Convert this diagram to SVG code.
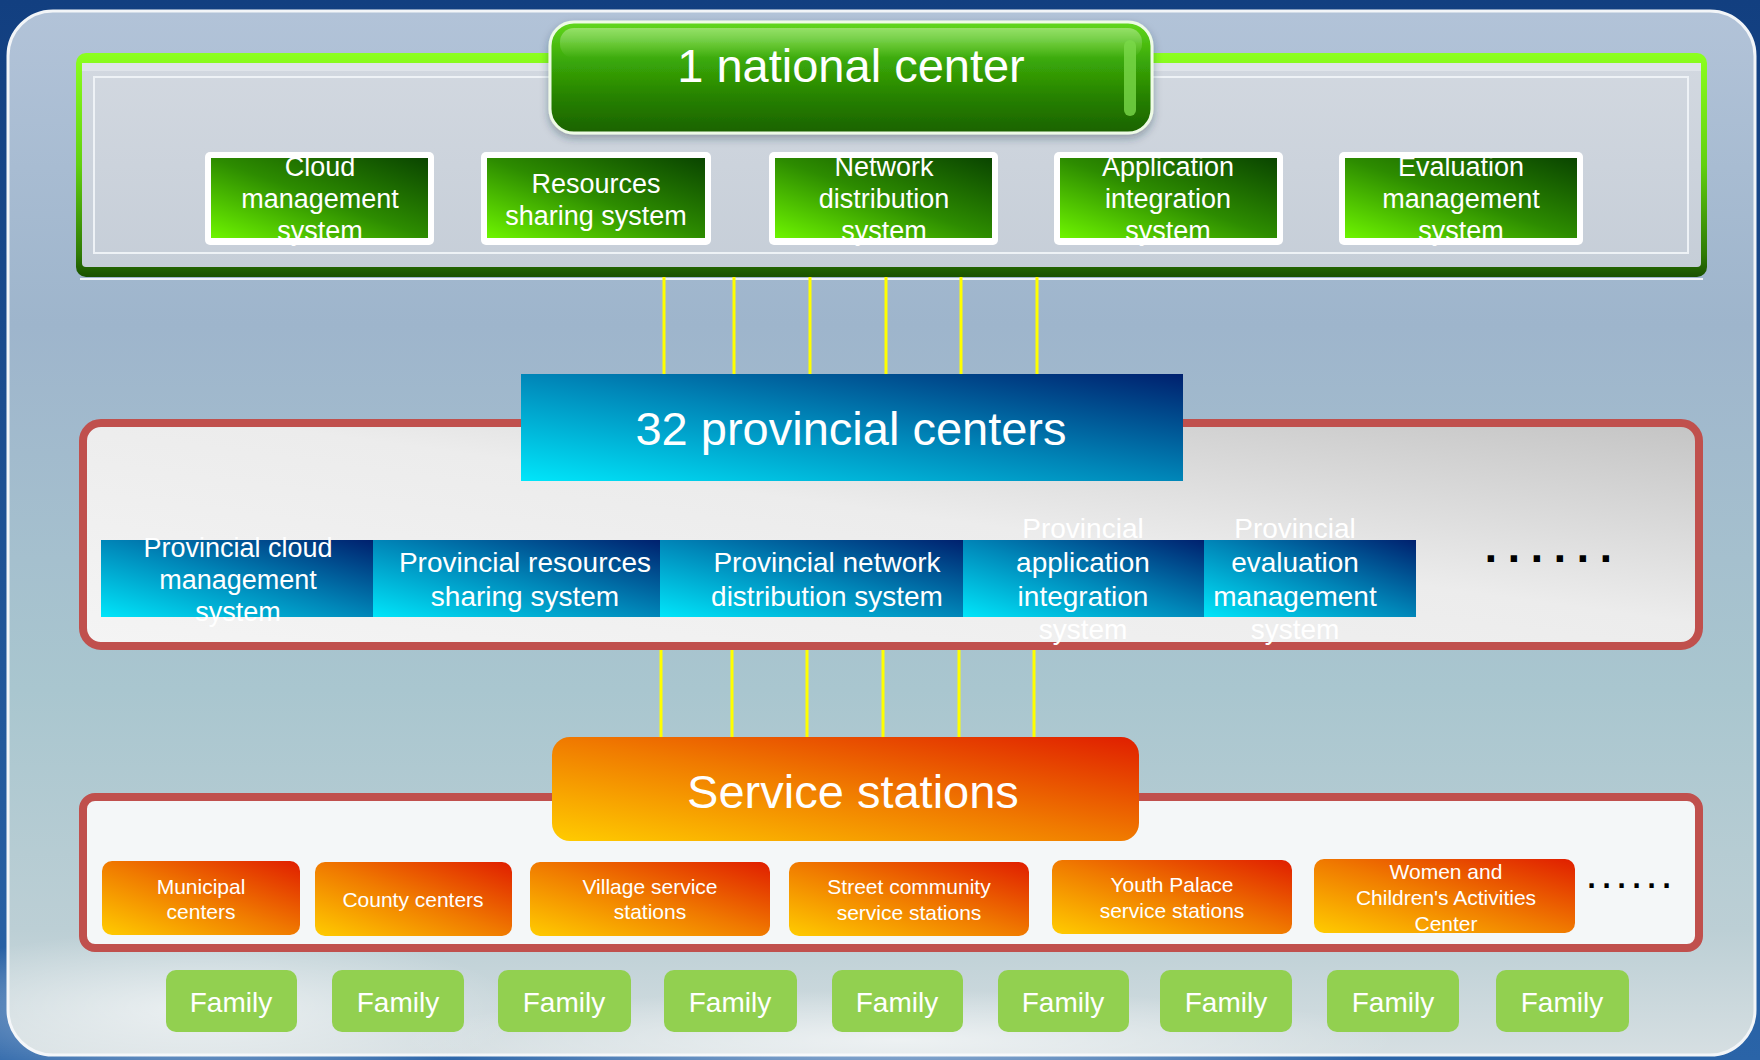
<svg xmlns="http://www.w3.org/2000/svg" width="1760" height="1060" viewBox="0 0 1760 1060">
<defs>
<style>
.t{font-family:"Liberation Sans",Arial,sans-serif;fill:#fff;text-anchor:middle}
.big{font-size:47px}
.gt{font-size:27px}
.bt{font-size:28px}
.ot{font-size:21px}
.ft{font-size:28px}
.yl{stroke:#ffff00;stroke-width:3;fill:none}
.rf{stroke:#c0504d;stroke-width:8}
.dots{font-family:"DejaVu Sans",sans-serif;font-weight:bold;fill:#000}
.fam{fill:#92d050}
</style>
<linearGradient id="gBg" x1="0" y1="0" x2="0" y2="1">
<stop offset="0" stop-color="#123f80"/><stop offset="1" stop-color="#2a64a8"/>
</linearGradient>
<linearGradient id="gPanel" x1="0" y1="0" x2="0" y2="1">
<stop offset="0" stop-color="#b2c3d8"/><stop offset="0.3" stop-color="#9eb5cc"/><stop offset="0.65" stop-color="#a9c6cf"/><stop offset="0.88" stop-color="#bccfd5"/><stop offset="1" stop-color="#d6dfe2"/>
</linearGradient>
<radialGradient id="gCloud" cx="0.5" cy="0.5" r="0.5">
<stop offset="0" stop-color="#ffffff" stop-opacity="0.6"/><stop offset="1" stop-color="#ffffff" stop-opacity="0"/>
</radialGradient>
<linearGradient id="gFrameGreen" x1="0" y1="0" x2="0" y2="1">
<stop offset="0" stop-color="#8cff1e"/><stop offset="0.5" stop-color="#62d010"/><stop offset="0.9" stop-color="#2f7a05"/><stop offset="1" stop-color="#1a5200"/>
</linearGradient>
<linearGradient id="gFrameIn" x1="0" y1="0" x2="0" y2="1">
<stop offset="0" stop-color="#d2d8e0"/><stop offset="1" stop-color="#c6ced8"/>
</linearGradient>
<linearGradient id="gNat" x1="0" y1="0" x2="0" y2="1">
<stop offset="0" stop-color="#62d81c"/><stop offset="0.35" stop-color="#3aa808"/><stop offset="0.7" stop-color="#257f02"/><stop offset="1" stop-color="#1b6200"/>
</linearGradient>
<linearGradient id="gGloss" x1="0" y1="0" x2="0" y2="1">
<stop offset="0" stop-color="#ffffff" stop-opacity="0.35"/><stop offset="1" stop-color="#ffffff" stop-opacity="0"/>
</linearGradient>
<linearGradient id="gGreenBox" x1="0" y1="1" x2="1" y2="0">
<stop offset="0" stop-color="#6ef500"/><stop offset="0.5" stop-color="#2d8c00"/><stop offset="1" stop-color="#0a4500"/>
</linearGradient>
<linearGradient id="gBlue" x1="0" y1="1" x2="1" y2="0">
<stop offset="0" stop-color="#00e6fa"/><stop offset="0.5" stop-color="#0086b8"/><stop offset="1" stop-color="#00206e"/>
</linearGradient>
<linearGradient id="gOrange" x1="0" y1="1" x2="1" y2="0">
<stop offset="0" stop-color="#ffcc00"/><stop offset="0.5" stop-color="#f07a00"/><stop offset="1" stop-color="#e01e00"/>
</linearGradient>
<linearGradient id="gProvIn" x1="0" y1="1" x2="1" y2="0">
<stop offset="0" stop-color="#f4f4f4"/><stop offset="0.55" stop-color="#ececec"/><stop offset="1" stop-color="#c4c4c4"/>
</linearGradient>
<filter id="sh" x="-10%" y="-20%" width="120%" height="150%">
<feDropShadow dx="0" dy="4" stdDeviation="4" flood-color="#203040" flood-opacity="0.35"/>
</filter>
</defs>

<g id="background">
<rect x="0" y="0" width="1760" height="1060" fill="url(#gBg)"/>
<rect x="8" y="11" width="1747" height="1044" rx="45" fill="url(#gPanel)" stroke="#f2f5f8" stroke-width="3"/>
<ellipse cx="200" cy="1010" rx="320" ry="80" fill="url(#gCloud)"/>
<ellipse cx="900" cy="1040" rx="500" ry="50" fill="url(#gCloud)"/>
</g>

<g id="national-frame">
<rect x="76" y="53" width="1631" height="224" rx="10" fill="url(#gFrameGreen)"/>
<rect x="82" y="63" width="1619" height="204" rx="4" fill="url(#gFrameIn)"/>
<rect x="82" y="63" width="1619" height="8" fill="#dfe4ea"/>
<rect x="94" y="77" width="1594" height="176" fill="none" stroke="#eef2f6" stroke-width="2"/>
<line x1="80" y1="279" x2="1703" y2="279" stroke="#f0f4f8" stroke-width="2"/>
</g>

<g id="provincial-frame">
<rect class="rf" x="83" y="423" width="1616" height="223" rx="18" fill="url(#gProvIn)"/>
</g>

<g id="station-frame">
<rect class="rf" x="83" y="797" width="1616" height="151" rx="12" fill="#f4f7f8"/>
</g>

<g id="connectors">
<line class="yl" x1="664" y1="277" x2="664" y2="374"/>
<line class="yl" x1="734" y1="277" x2="734" y2="374"/>
<line class="yl" x1="810" y1="277" x2="810" y2="374"/>
<line class="yl" x1="886" y1="277" x2="886" y2="374"/>
<line class="yl" x1="961" y1="277" x2="961" y2="374"/>
<line class="yl" x1="1037" y1="277" x2="1037" y2="374"/>
<line class="yl" x1="661" y1="650" x2="661" y2="737"/>
<line class="yl" x1="732" y1="650" x2="732" y2="737"/>
<line class="yl" x1="807" y1="650" x2="807" y2="737"/>
<line class="yl" x1="883" y1="650" x2="883" y2="737"/>
<line class="yl" x1="959" y1="650" x2="959" y2="737"/>
<line class="yl" x1="1034" y1="650" x2="1034" y2="737"/>
</g>

<g id="national-center">
<rect x="550" y="22" width="602" height="111" rx="24" fill="url(#gNat)" stroke="#eefbe6" stroke-width="3" filter="url(#sh)"/>
<rect x="560" y="28" width="582" height="30" rx="14" fill="url(#gGloss)"/>
<rect x="1124" y="40" width="12" height="76" rx="6" fill="#7ad84a" opacity="0.8"/>
<text class="t big" x="851" y="82">1 national center</text>
</g>

<g id="cloud-mgmt">
<rect x="205" y="152" width="229" height="93" rx="5" fill="#fff"/>
<rect x="211" y="158" width="217" height="80" fill="url(#gGreenBox)"/>
<text class="t gt" x="320" y="176">Cloud</text>
<text class="t gt" x="320" y="208">management</text>
<text class="t gt" x="320" y="240">system</text>
</g>
<g id="resources-sharing">
<rect x="481" y="152" width="230" height="93" rx="5" fill="#fff"/>
<rect x="487" y="158" width="218" height="80" fill="url(#gGreenBox)"/>
<text class="t gt" x="596" y="193">Resources</text>
<text class="t gt" x="596" y="225">sharing system</text>
</g>
<g id="network-dist">
<rect x="769" y="152" width="229" height="93" rx="5" fill="#fff"/>
<rect x="775" y="158" width="217" height="80" fill="url(#gGreenBox)"/>
<text class="t gt" x="884" y="176">Network</text>
<text class="t gt" x="884" y="208">distribution</text>
<text class="t gt" x="884" y="240">system</text>
</g>
<g id="app-integration">
<rect x="1054" y="152" width="229" height="93" rx="5" fill="#fff"/>
<rect x="1060" y="158" width="217" height="80" fill="url(#gGreenBox)"/>
<text class="t gt" x="1168" y="176">Application</text>
<text class="t gt" x="1168" y="208">integration</text>
<text class="t gt" x="1168" y="240">system</text>
</g>
<g id="eval-mgmt">
<rect x="1339" y="152" width="244" height="93" rx="5" fill="#fff"/>
<rect x="1345" y="158" width="232" height="80" fill="url(#gGreenBox)"/>
<text class="t gt" x="1461" y="176">Evaluation</text>
<text class="t gt" x="1461" y="208">management</text>
<text class="t gt" x="1461" y="240">system</text>
</g>

<g id="provincial-centers">
<rect x="521" y="374" width="662" height="107" fill="url(#gBlue)"/>
<text class="t big" x="851" y="445">32 provincial centers</text>
</g>

<g id="prov-cloud">
<rect x="101" y="540" width="272" height="77" fill="url(#gBlue)"/>
<text class="t gt" x="238" y="557">Provincial cloud</text>
<text class="t gt" x="238" y="589">management</text>
<text class="t gt" x="238" y="621">system</text>
</g>
<g id="prov-resources">
<rect x="373" y="540" width="288" height="77" fill="url(#gBlue)"/>
<text class="t bt" x="525" y="572">Provincial resources</text>
<text class="t bt" x="525" y="606">sharing system</text>
</g>
<g id="prov-network">
<rect x="660" y="540" width="304" height="77" fill="url(#gBlue)"/>
<text class="t bt" x="827" y="572">Provincial network</text>
<text class="t bt" x="827" y="606">distribution system</text>
</g>
<g id="prov-app">
<rect x="963" y="540" width="242" height="77" fill="url(#gBlue)"/>
<text class="t bt" x="1083" y="538">Provincial</text>
<text class="t bt" x="1083" y="572">application</text>
<text class="t bt" x="1083" y="606">integration</text>
<text class="t bt" x="1083" y="639">system</text>
</g>
<g id="prov-eval">
<rect x="1204" y="540" width="212" height="77" fill="url(#gBlue)"/>
<text class="t bt" x="1295" y="538">Provincial</text>
<text class="t bt" x="1295" y="572">evaluation</text>
<text class="t bt" x="1295" y="606">management</text>
<text class="t bt" x="1295" y="639">system</text>
</g>
<g id="prov-more">
<text class="dots" x="1484" y="562" font-size="36" letter-spacing="9.3">......</text>
</g>

<g id="service-stations">
<rect x="552" y="737" width="587" height="104" rx="18" fill="url(#gOrange)"/>
<text class="t big" x="853" y="808">Service stations</text>
</g>

<g id="municipal">
<rect x="102" y="861" width="198" height="74" rx="10" fill="url(#gOrange)"/>
<text class="t ot" x="201" y="894">Municipal</text>
<text class="t ot" x="201" y="919">centers</text>
</g>
<g id="county">
<rect x="315" y="862" width="197" height="74" rx="10" fill="url(#gOrange)"/>
<text class="t ot" x="413" y="907">County centers</text>
</g>
<g id="village">
<rect x="530" y="862" width="240" height="74" rx="10" fill="url(#gOrange)"/>
<text class="t ot" x="650" y="894">Village service</text>
<text class="t ot" x="650" y="919">stations</text>
</g>
<g id="street">
<rect x="789" y="862" width="240" height="74" rx="10" fill="url(#gOrange)"/>
<text class="t ot" x="909" y="894">Street community</text>
<text class="t ot" x="909" y="920">service stations</text>
</g>
<g id="youth">
<rect x="1052" y="860" width="240" height="74" rx="10" fill="url(#gOrange)"/>
<text class="t ot" x="1172" y="892">Youth Palace</text>
<text class="t ot" x="1172" y="918">service stations</text>
</g>
<g id="women-children">
<rect x="1314" y="859" width="261" height="74" rx="10" fill="url(#gOrange)"/>
<text class="t ot" x="1446" y="879">Women and</text>
<text class="t ot" x="1446" y="905">Children's Activities</text>
<text class="t ot" x="1446" y="931">Center</text>
</g>
<g id="station-more">
<text class="dots" x="1587" y="888" font-size="24" letter-spacing="5.9">......</text>
</g>

<g id="family-1"><rect class="fam" x="166" y="970" width="131" height="62" rx="10"/><text class="t ft" x="231" y="1012">Family</text></g>
<g id="family-2"><rect class="fam" x="332" y="970" width="132" height="62" rx="10"/><text class="t ft" x="398" y="1012">Family</text></g>
<g id="family-3"><rect class="fam" x="498" y="970" width="133" height="62" rx="10"/><text class="t ft" x="564" y="1012">Family</text></g>
<g id="family-4"><rect class="fam" x="664" y="970" width="133" height="62" rx="10"/><text class="t ft" x="730" y="1012">Family</text></g>
<g id="family-5"><rect class="fam" x="832" y="970" width="131" height="62" rx="10"/><text class="t ft" x="897" y="1012">Family</text></g>
<g id="family-6"><rect class="fam" x="998" y="970" width="131" height="62" rx="10"/><text class="t ft" x="1063" y="1012">Family</text></g>
<g id="family-7"><rect class="fam" x="1160" y="970" width="132" height="62" rx="10"/><text class="t ft" x="1226" y="1012">Family</text></g>
<g id="family-8"><rect class="fam" x="1327" y="970" width="132" height="62" rx="10"/><text class="t ft" x="1393" y="1012">Family</text></g>
<g id="family-9"><rect class="fam" x="1496" y="970" width="133" height="62" rx="10"/><text class="t ft" x="1562" y="1012">Family</text></g>
</svg>
